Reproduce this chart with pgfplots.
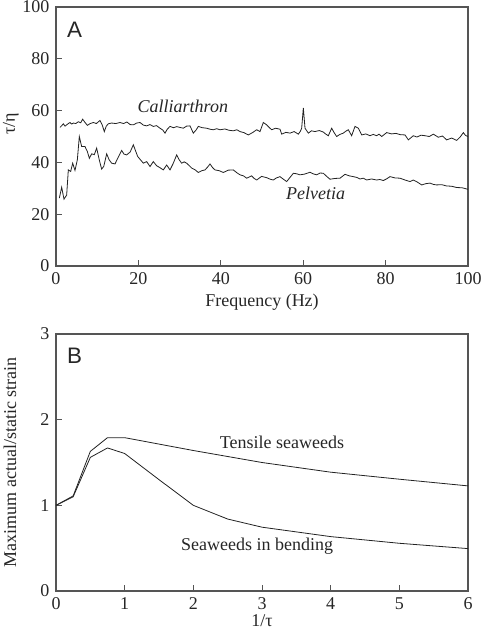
\documentclass[border=0pt]{standalone}
\usepackage{pgfplots}
\pgfplotsset{compat=1.18}
\usepackage{fontspec}
\setmainfont{Liberation Serif}
\newfontfamily\panelfont{Liberation Sans}
\definecolor{framegray}{HTML}{555555}
\definecolor{linecol}{HTML}{222222}

\pgfplotsset{
  panel/.style={
    scale only axis,
    width=309pt,
    axis line style={framegray, line width=0.8pt},
    tick style={framegray, line width=0.7pt},
    tick align=inside,
    major tick length=4.5pt,
    xtick pos=bottom,
    ytick pos=left,
    /pgf/number format/assume math mode=true,
    tick label style={font=\fontsize{13.5}{15}\selectfont, text=black!85},
    label style={font=\fontsize{13.5}{15}\selectfont, text=black!85},
    xticklabel style={yshift=-1.7pt},
    yticklabel style={xshift=-1.5pt},
    clip=false,
  },
}

\begin{document}
\begin{tikzpicture}
\begin{axis}[panel,
  at={(0,0)}, anchor=south west,
  height=194.25pt,
  xmin=0, xmax=100, ymin=0, ymax=100,
  xtick={0,20,40,60,80,100},
  ytick={0,20,40,60,80,100},
  xlabel={Frequency (Hz)},
  xlabel style={at={(axis description cs:0.5,0)}, anchor=base, yshift=-30.75pt},
  ylabel={τ/η},
  ylabel style={at={(axis description cs:-0.100,0.55)}, anchor=base, inner sep=0pt, rotate=0},
]
\node[font=\panelfont\fontsize{16.8}{18}\selectfont, anchor=base, text=black!85] at (axis cs:4.5,88.4) {A};
\node[font=\itshape\fontsize{13.5}{15}\selectfont, anchor=base, text=black!85] at (axis cs:30.8,59.2) {Calliarthron};
\node[font=\itshape\fontsize{13.5}{15}\selectfont, anchor=base, text=black!85] at (axis cs:63.0,25.75) {Pelvetia};
% Calliarthron
\addplot[linecol, line width=0.6pt] table {
x y
0.97 53.5
1.4 54.2
1.78 54.9
2.2 54.0
2.59 54.5
3.0 55.0
3.40 55.4
3.8 54.8
4.21 55.2
4.8 55.0
5.42 55.7
6.0 55.3
6.47 56.7
7.0 55.5
7.61 54.3
8.3 55.0
9.06 55.4
9.8 55.0
10.68 56.2
11.2 54.5
11.73 51.9
12.20 54.0
12.70 54.9
13.5 55.2
14.5 55.0
15.53 55.4
16.4 55.0
17.2 55.6
18.0 54.6
18.77 54.5
19.6 55.2
20.39 55.4
21.2 54.4
22.01 54.1
22.8 54.6
23.62 53.9
24.4 54.2
25.24 53.2
25.9 52.5
26.46 51.3
27.0 52.8
27.67 53.9
28.5 53.4
29.3 53.8
30.10 53.5
30.9 53.2
31.7 54.0
32.52 54.1
33.33 51.3
34.0 52.5
34.55 53.9
35.5 53.4
36.57 53.2
37.4 52.8
38.19 52.6
39.0 53.0
39.81 52.6
41.0 52.9
42.0 52.4
43.04 52.2
43.9 52.6
44.66 51.9
45.6 51.5
46.68 50.6
47.7 51.5
48.71 52.6
49.51 51.9
50.32 55.4
51.13 54.5
51.8 53.4
52.35 52.6
53.3 53.2
54.37 52.8
54.77 50.9
55.8 51.6
56.80 51.3
57.8 51.9
58.82 50.9
59.30 52.0
59.63 53.2
60.03 61.0
60.44 53.2
61.25 51.3
62.0 52.2
62.86 51.9
63.9 52.3
64.89 51.7
65.5 50.9
66.10 50.3
66.91 53.2
67.5 51.5
68.12 50.0
68.9 50.8
69.74 51.3
70.3 52.0
70.95 52.6
71.76 50.3
72.57 53.9
73.38 53.2
74.19 50.6
75.2 51.0
76.21 50.3
77.0 50.8
77.83 50.3
78.4 50.9
79.05 50.0
80.26 51.5
81.47 51.0
82.5 51.2
83.6 50.7
84.71 50.6
85.52 48.7
86.73 50.3
87.6 49.8
88.6 50.5
89.56 50.3
90.6 50.0
91.59 50.9
92.80 49.7
93.8 50.2
94.82 48.7
96.04 49.4
97.25 48.5
98.1 49.8
98.87 51.5
99.4 50.4
100 50.0
};
% Pelvetia
\addplot[linecol, line width=0.6pt] table {
x y
0.81 26.2
1.38 30.4
1.94 25.8
2.59 27.4
2.99 37.1
3.56 36.5
4.05 39.7
4.61 36.9
5.18 41.0
5.66 50.0
6.23 46.1
7.04 46.1
7.61 44.2
8.09 41.6
8.66 43.3
9.3 43.0
9.87 45.5
10.5 41.0
11.08 37.4
11.6 38.5
12.30 43.3
12.9 41.0
13.51 39.7
14.32 39.4
15.1 42.0
15.94 44.6
16.5 43.2
17.15 42.9
18.0 44.0
18.77 46.8
19.3 44.5
19.82 42.3
20.5 41.0
21.20 39.7
22.01 40.3
22.82 38.4
23.62 40.3
24.43 38.7
25.2 38.0
26.05 37.1
26.86 39.0
27.67 37.1
28.48 39.7
29.29 42.9
29.9 41.0
30.50 39.7
31.1 40.2
31.72 39.7
32.3 38.8
32.93 37.8
33.7 37.2
34.55 36.1
35.4 36.8
36.17 37.1
36.8 38.2
37.38 39.4
38.0 38.0
38.59 37.1
39.6 36.8
40.61 36.1
41.8 37.0
43.04 37.1
43.9 36.0
44.66 35.2
45.5 34.8
46.28 33.9
47.49 34.8
48.1 33.8
48.71 33.2
49.9 34.6
51.13 34.1
52.0 33.5
52.75 33.2
53.5 34.0
54.37 34.5
55.2 33.5
55.99 32.6
56.8 34.2
57.61 35.8
58.4 35.6
59.22 35.2
60.4 35.5
61.65 36.2
62.4 35.6
63.27 35.2
64.1 35.9
64.89 35.8
65.7 34.6
66.50 33.5
67.7 33.8
68.93 33.9
69.5 34.6
70.15 35.4
71.2 34.8
72.17 34.5
73.0 34.2
73.79 33.6
74.6 33.9
75.40 33.2
76.6 33.6
77.83 33.2
78.6 33.4
79.45 33.0
80.2 33.6
81.07 34.5
82.3 34.0
83.50 33.9
84.7 33.2
85.92 32.6
86.73 33.2
87.7 32.4
88.76 31.3
89.8 31.8
90.78 32.0
91.6 31.5
92.39 31.3
93.6 31.4
94.82 30.9
96.0 30.8
97.25 30.3
98.6 30.2
100 29.6
};
\end{axis}

\begin{axis}[panel,
  at={(0,-243.75pt)}, anchor=south west,
  height=192.75pt,
  xmin=0, xmax=6, ymin=0, ymax=3,
  xtick={0,1,2,3,4,5,6},
  ytick={0,1,2,3},
  xlabel={1/τ},
  xlabel style={at={(axis description cs:0.5,0)}, anchor=base, inner sep=0pt, yshift=-26.5pt},
  ylabel={Maximum actual/static strain},
  ylabel style={at={(axis description cs:-0.097,0.5)}, anchor=base, inner sep=0pt, rotate=0},
]
\node[font=\panelfont\fontsize{16.8}{18}\selectfont, anchor=base, text=black!85] at (axis cs:0.27,2.66) {B};
\node[font=\fontsize{13.5}{15}\selectfont, anchor=base, text=black!85] at (axis cs:3.29,1.661) {Tensile seaweeds};
\node[font=\fontsize{13.5}{15}\selectfont, anchor=base, text=black!85] at (axis cs:2.93,0.467) {Seaweeds in bending};
% Tensile seaweeds
\addplot[linecol, line width=0.6pt] table {
x y
0 1.0
0.25 1.11
0.5 1.63
0.75 1.79
1 1.79
2 1.64
3 1.50
4 1.387
5 1.305
6 1.227
};
% Seaweeds in bending
\addplot[linecol, line width=0.6pt] table {
x y
0 1.0
0.25 1.10
0.5 1.56
0.75 1.67
1 1.605
1.5 1.30
2 1.0
2.5 0.84
3 0.745
4 0.635
5 0.557
6 0.495
};
\end{axis}
\pgfresetboundingbox
\useasboundingbox (-42pt,-273pt) rectangle (318pt,199.5pt);
\end{tikzpicture}
\end{document}
